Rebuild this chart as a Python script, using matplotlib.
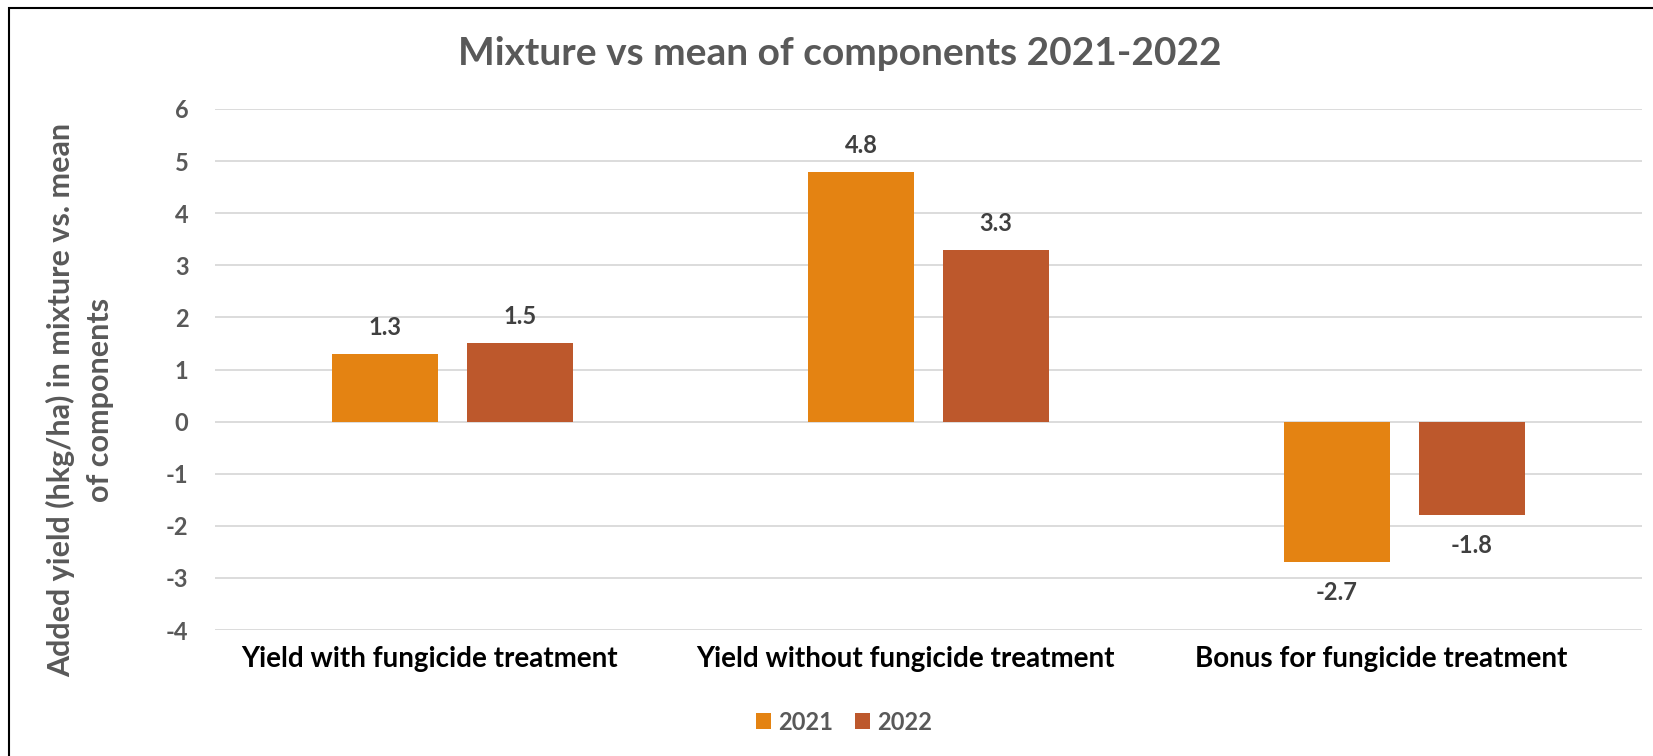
import matplotlib
matplotlib.use("Agg")
import matplotlib.pyplot as plt
import numpy as np
from matplotlib.patches import Rectangle, Patch

categories = ["Yield with fungicide treatment",
              "Yield without fungicide treatment",
              "Bonus for fungicide treatment"]
series_names = ["2021", "2022"]
values_2021 = [1.3, 4.8, -2.7]
values_2022 = [1.5, 3.3, -1.8]
yticks = [-4, -3, -2, -1, 0, 1, 2, 3, 4, 5, 6]
title = "Mixture vs mean of components 2021-2022"
ylabel = "Added yield (hkg/ha) in mixture vs. mean\nof components"

colors = ["#E48312", "#BD582C"]

plt.rcParams['font.family'] = ['Lato', 'DejaVu Sans']
plt.rcParams['font.weight'] = 'bold'
plt.rcParams['axes.unicode_minus'] = False

W, H = 1653, 756
fig = plt.figure(figsize=(W / 100, H / 100), dpi=100)
ax = fig.add_axes([215 / W, 1 - 630 / H, (1642 - 215) / W, (630 - 109) / H])

x = np.arange(len(categories))
bw = 0.223
off = 0.142
b1 = ax.bar(x - off, values_2021, bw, color=colors[0], zorder=3)
b2 = ax.bar(x + off, values_2022, bw, color=colors[1], zorder=3)

for bars, vals in ((b1, values_2021), (b2, values_2022)):
    for rect, v in zip(bars, vals):
        cx = rect.get_x() + rect.get_width() / 2
        if v >= 0:
            ax.annotate(f"{v:.1f}", xy=(cx, v), xytext=(0, 19), textcoords='offset pixels',
                        ha='center', va='baseline', fontsize=17, fontweight='bold', color='#404040')
        else:
            ax.annotate(f"{v:.1f}", xy=(cx, v), xytext=(0, -19), textcoords='offset pixels',
                        ha='center', va='top', fontsize=17, fontweight='bold', color='#404040')

ax.set_xlim(-0.5, len(categories) - 0.5)
ax.set_ylim(-4, 6)
ax.set_yticks(yticks)
ax.set_yticklabels([str(t) for t in yticks])
ax.set_xticks(x)
ax.set_xticklabels([])
for xi, cat in zip(x, categories):
    ax.annotate(cat, xy=(xi, 0), xycoords=('data', 'axes fraction'), xytext=(-23, -37),
                textcoords='offset pixels', ha='center', va='baseline', fontsize=20,
                fontweight='bold', color='black')
ax.tick_params(axis='y', length=0, pad=19, labelsize=17, labelcolor='#595959')
ax.tick_params(axis='x', length=0)
for lab in ax.get_yticklabels():
    lab.set_fontweight('bold')
ax.grid(axis='y', color='#D9D9D9', linewidth=1.3, zorder=0)
for s in ax.spines.values():
    s.set_visible(False)

fig.text(840 / W, 1 - 65 / H, title, ha='center', va='baseline', fontsize=28,
         fontweight='bold', color='#595959')
fig.text(80 / W, 1 - 400 / H, ylabel, ha='center', va='center', rotation=90,
         multialignment='center', fontsize=22, fontweight='bold', color='#595959',
         linespacing=1.45)

handles = [Patch(facecolor=c, edgecolor='none') for c in colors]
leg = fig.legend(handles, series_names, loc='center', bbox_to_anchor=(844 / W, 1 - 722 / H),
                 ncol=2, frameon=False, fontsize=17, handlelength=0.64, handleheight=0.64,
                 handletextpad=0.3, columnspacing=0.95)
for t in leg.get_texts():
    t.set_color('#595959')
    t.set_fontweight('bold')

fig.patches.append(Rectangle((9 / W, -0.5), 2, 1.5 - 8 / H, transform=fig.transFigure,
                             fill=False, edgecolor='black', linewidth=1.5))

fig.savefig("out.png", dpi=100)
